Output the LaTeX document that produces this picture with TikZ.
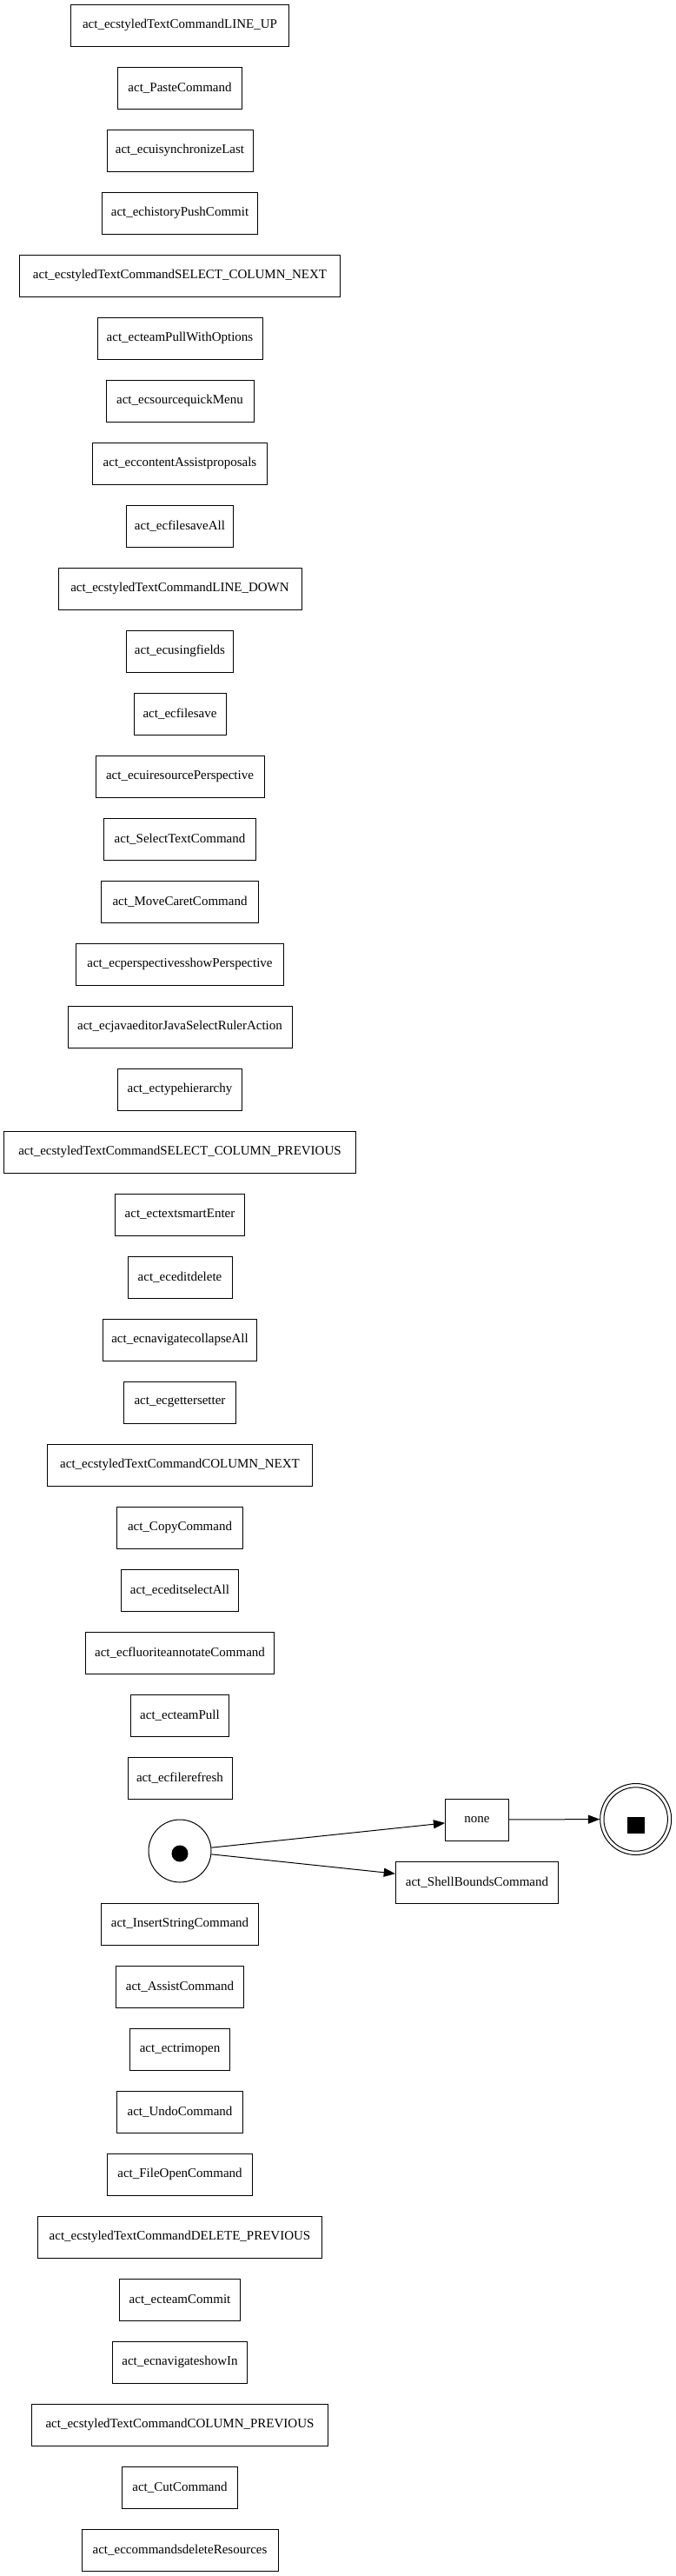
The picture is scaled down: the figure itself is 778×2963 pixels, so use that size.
\documentclass[tikz,border=0pt]{standalone}
\usepackage{fontspec}
\setmainfont{Liberation Serif}
\usetikzlibrary{arrows.meta}
\tikzset{
  box/.style={draw, line width=1pt, rectangle, minimum height=48pt, inner sep=0pt,
    font=\fontsize{15}{18}\selectfont},
  conn/.style={line width=1pt, -{Triangle[length=13.3pt,width=10pt]}},
}
\begin{document}
\begin{tikzpicture}[x=1pt,y=-1pt]
\useasboundingbox (0,0) rectangle (778,2963);
\node[box, minimum width=250.7pt] (n1) at (207,29) {act\_ecstyledTextCommandLINE\_UP};
\node[box, minimum width=143.7pt] (n2) at (207,101) {act\_PasteCommand};
\node[box, minimum width=168pt] (n3) at (207,173) {act\_ecuisynchronizeLast};
\node[box, minimum width=179pt] (n4) at (207,245) {act\_echistoryPushCommit};
\node[box, minimum width=369pt] (n5) at (207,317) {act\_ecstyledTextCommandSELECT\_COLUMN\_NEXT};
\node[box, minimum width=190pt] (n6) at (207,389) {act\_ecteamPullWithOptions};
\node[box, minimum width=170pt] (n7) at (207,461) {act\_ecsourcequickMenu};
\node[box, minimum width=201pt] (n8) at (207,533) {act\_eccontentAssistproposals};
\node[box, minimum width=123pt] (n9) at (207,605) {act\_ecfilesaveAll};
\node[box, minimum width=280pt] (n10) at (207,677) {act\_ecstyledTextCommandLINE\_DOWN};
\node[box, minimum width=123pt] (n11) at (207,749) {act\_ecusingfields};
\node[box, minimum width=106pt] (n12) at (207,821) {act\_ecfilesave};
\node[box, minimum width=194pt] (n13) at (207,893) {act\_ecuiresourcePerspective};
\node[box, minimum width=175pt] (n14) at (207,965) {act\_SelectTextCommand};
\node[box, minimum width=181pt] (n15) at (207,1037) {act\_MoveCaretCommand};
\node[box, minimum width=239pt] (n16) at (207,1109) {act\_ecperspectivesshowPerspective};
\node[box, minimum width=258pt] (n17) at (207,1181) {act\_ecjavaeditorJavaSelectRulerAction};
\node[box, minimum width=143pt] (n18) at (207,1253) {act\_ectypehierarchy};
\node[box, minimum width=404.7pt] (n19) at (207,1325) {act\_ecstyledTextCommandSELECT\_COLUMN\_PREVIOUS};
\node[box, minimum width=149.4pt] (n20) at (207,1397) {act\_ectextsmartEnter};
\node[box, minimum width=120pt] (n21) at (207,1469) {act\_eceditdelete};
\node[box, minimum width=177pt] (n22) at (207,1541) {act\_ecnavigatecollapseAll};
\node[box, minimum width=129pt] (n23) at (207,1613) {act\_ecgettersetter};
\node[box, minimum width=305pt] (n24) at (207,1685) {act\_ecstyledTextCommandCOLUMN\_NEXT};
\node[box, minimum width=145pt] (n25) at (207,1757) {act\_CopyCommand};
\node[box, minimum width=135pt] (n26) at (207,1829) {act\_eceditselectAll};
\node[box, minimum width=217pt] (n27) at (207,1901) {act\_ecfluoriteannotateCommand};
\node[box, minimum width=113pt] (n28) at (207,1973) {act\_ecteamPull};
\node[box, minimum width=120pt] (n29) at (207,2045) {act\_ecfilerefresh};
% initial state
\node[draw, line width=1pt, circle, minimum size=72pt, inner sep=0pt] (init) at (207,2129) {};
\fill (207,2132) circle[radius=9.5pt];
\node[box, minimum width=181pt] (n31) at (207,2213) {act\_InsertStringCommand};
\node[box, minimum width=147pt] (n32) at (207,2285) {act\_AssistCommand};
\node[box, minimum width=115pt] (n33) at (207,2357) {act\_ectrimopen};
\node[box, minimum width=145pt] (n34) at (207,2429) {act\_UndoCommand};
\node[box, minimum width=167pt] (n35) at (207,2501) {act\_FileOpenCommand};
\node[box, minimum width=327pt] (n36) at (207,2573) {act\_ecstyledTextCommandDELETE\_PREVIOUS};
\node[box, minimum width=139pt] (n37) at (207,2645) {act\_ecteamCommit};
\node[box, minimum width=155pt] (n38) at (207,2717) {act\_ecnavigateshowIn};
\node[box, minimum width=340.3pt] (n39) at (207,2789) {act\_ecstyledTextCommandCOLUMN\_PREVIOUS};
\node[box, minimum width=133pt] (n40) at (207,2861) {act\_CutCommand};
\node[box, minimum width=226pt] (n41) at (207,2933) {act\_eccommandsdeleteResources};
% right side
\node[box, minimum width=72.6pt] (none) at (549,2093) {none};
\node[box, minimum width=187pt] (shell) at (549,2165) {act\_ShellBoundsCommand};
\node[draw, line width=1pt, circle, minimum size=82pt, inner sep=0pt] (final) at (731.7,2092.5) {};
\draw[line width=1pt] (final.center) circle[radius=36.7pt];
\fill (721.5,2090) rectangle (741.5,2108.7);
% connectors
\draw[conn] (init) -- (none);
\draw[conn] (init) -- (shell);
\draw[conn] (none) -- (final);
\end{tikzpicture}
\end{document}
